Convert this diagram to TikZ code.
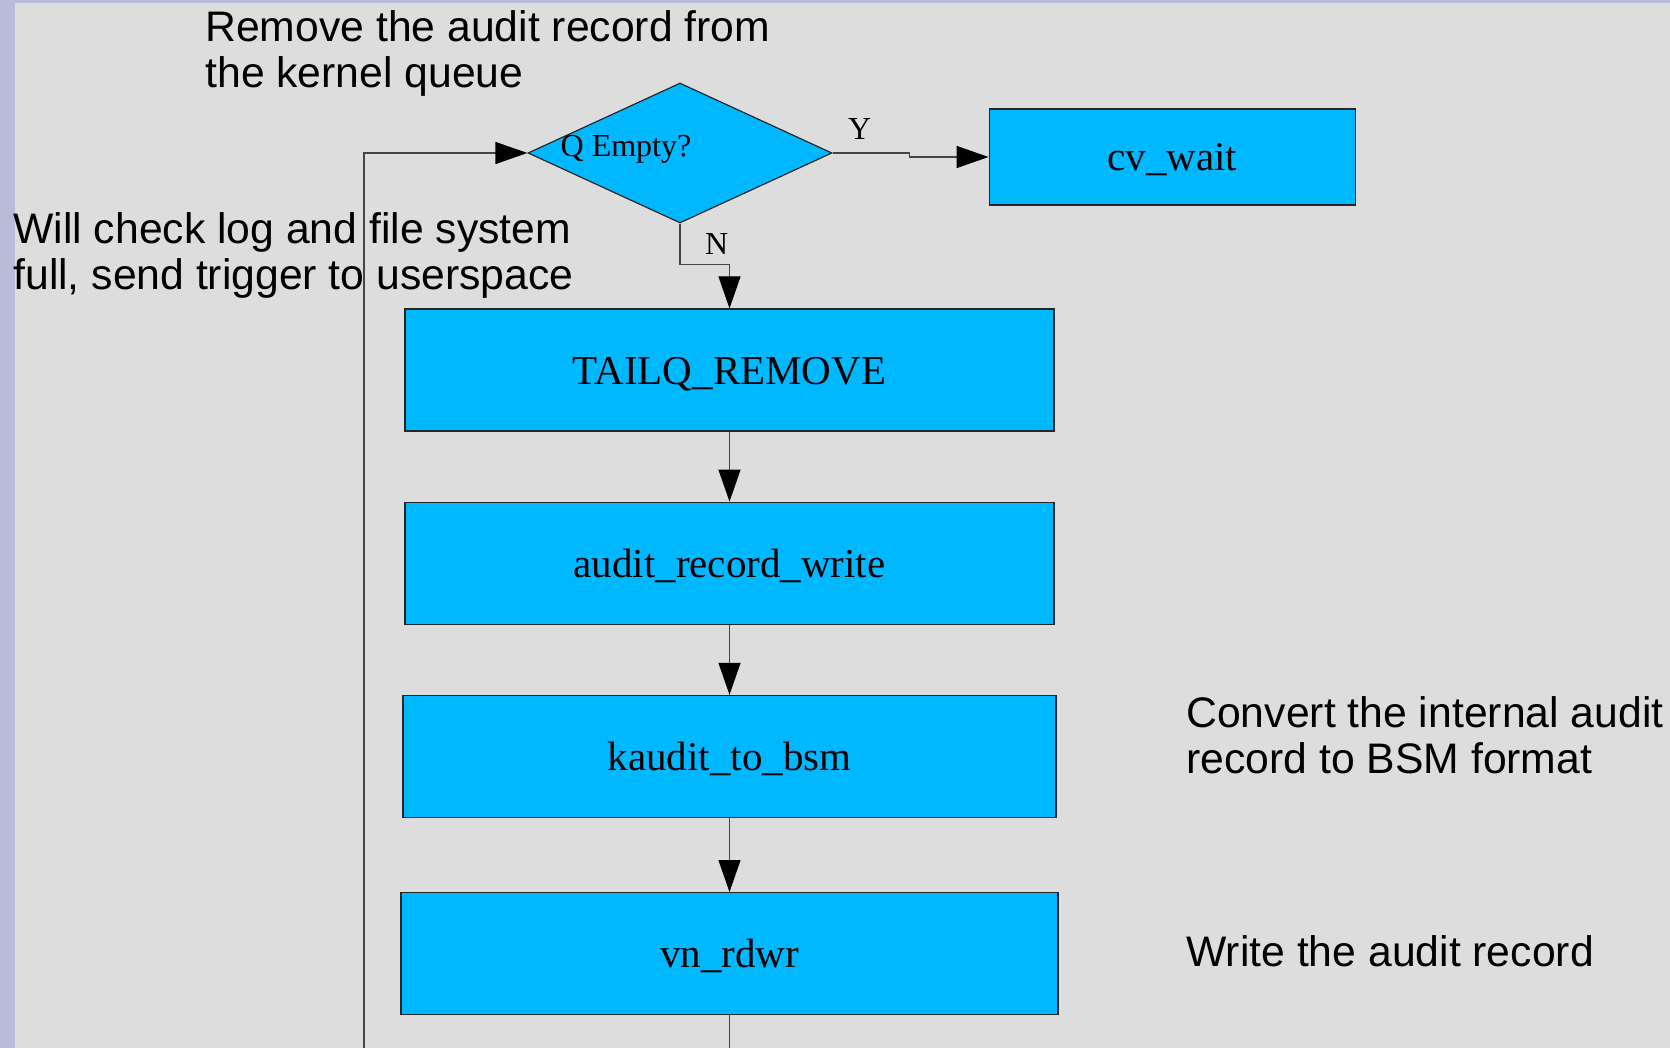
\documentclass[tikz,border=0pt]{standalone}
\usepackage{fontspec}
\setmainfont{Liberation Serif}
\setsansfont{Liberation Sans}
\usepackage{tikz}
\usetikzlibrary{positioning,arrows.meta,shapes.geometric}
\definecolor{bgc}{HTML}{DDDDDD}
\definecolor{stripec}{HTML}{B9BCD9}
\definecolor{boxc}{HTML}{00B8FF}
\definecolor{linec}{HTML}{444444}
\tikzset{
  procbox/.style={draw=black!85, fill=boxc, line width=0.6pt, inner sep=0pt,
                  font=\fontsize{20.5}{24}\selectfont, text height=18pt, text depth=4pt,
                  minimum width=324.5pt, minimum height=61pt},
  decision/.style={diamond, draw=black!85, fill=boxc, line width=0.6pt, inner sep=0pt,
                   minimum width=152pt, minimum height=70pt},
  note/.style={font=\sffamily\fontsize{21.35}{23}\selectfont, align=left,
               anchor=north west, inner sep=0pt},
  lbl/.style={font=\fontsize{16}{18}\selectfont, inner sep=0pt},
  arr/.style={-{Triangle[length=16pt,width=11pt,color=black]}, draw=linec, line width=0.6pt},
  conn/.style={draw=linec, line width=0.6pt},
}
\begin{document}
\begin{tikzpicture}[x=0.5pt, y=-0.5pt, node distance=35pt]
  % page
  \fill[bgc] (0,0) rectangle (1670,1048);
  \fill[stripec] (0,0) rectangle (15,1048);
  \fill[stripec] (0,0) rectangle (1670,3);
  \useasboundingbox (0,0) rectangle (1670,1048);

  \node[decision, label={[lbl, xshift=-27pt, yshift=2pt]center:Q Empty?}] (qempty) at (680,153) {};
  \node[procbox, minimum width=183pt, minimum height=48pt, right=78pt of qempty, yshift=-2pt] (cvwait) {cv\_wait};
  \node[procbox] (tailq) at (729.5,370) {TAILQ\_REMOVE};
  \node[procbox, below=of tailq] (arwrite) {audit\_record\_write};
  \node[procbox, minimum width=326.5pt, below=of arwrite] (kbsm) {kaudit\_to\_bsm};
  \node[procbox, minimum width=328.5pt, below=37pt of kbsm] (vnrdwr) {vn\_rdwr};

  % notes
  \node[note] (nremove) at (205,10) {Remove the audit record from\\the kernel queue};
  \node[note] (ncheck) at (13,212) {Will check log and file system\\full, send trigger to userspace};
  \node[note] (nconvert) at (1186,696) {Convert the internal audit\\record to BSM format};
  \node[note] (nwrite) at (1186,935) {Write the audit record};

  \coordinate (loopin) at (364,1048);
  \coordinate (vnout) at (729.5,1048);

  \draw[arr] (qempty.east) -- node[lbl, above=6.5pt, pos=0.35] {Y} ++(77,0) |- (cvwait.west);
  \draw[arr] (qempty.south) -- ++(0,41) -| node[lbl, above=4.5pt, pos=0.37] {N} (tailq.north);
  \draw[arr] (tailq) -- (arwrite);
  \draw[arr] (arwrite) -- (kbsm);
  \draw[arr] (kbsm) -- (vnrdwr);
  \draw[conn] (vnrdwr.south) -- (vnout);
  \draw[arr] (loopin) |- (qempty.west);
\end{tikzpicture}
\end{document}
